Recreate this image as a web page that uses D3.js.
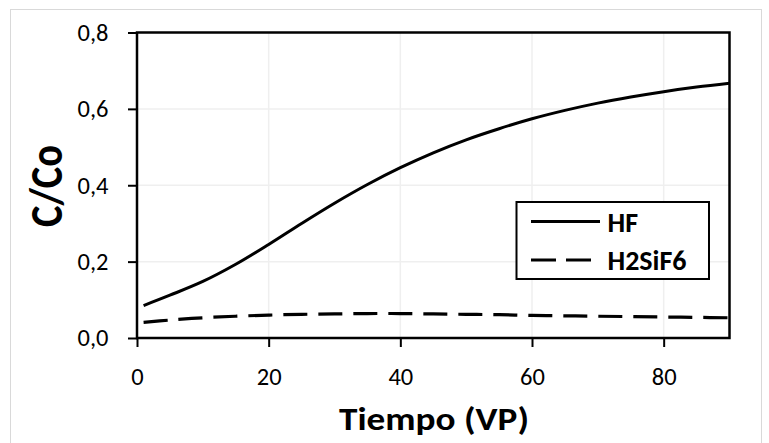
<!DOCTYPE html>
<html>
<head>
<meta charset="utf-8">
<script src="https://cdn.jsdelivr.net/npm/d3@7"></script>
<style>
  body { margin: 0; background: #fff; }
  svg text { font-family: Carlito, Calibri, Lato, sans-serif; fill: #000; }
</style>
</head>
<body>
<div id="container"></div>
<script>
// Chart values
const tiempo = [1, 5, 10, 15, 20, 25, 30, 35, 40, 45, 50, 55, 60, 65, 70, 75, 80, 85, 90];
const hfValues = [0.085, 0.112, 0.148, 0.193, 0.245, 0.300, 0.353, 0.402, 0.446, 0.485, 0.519, 0.548, 0.574, 0.596, 0.615, 0.631, 0.645, 0.657, 0.667];
const h2sif6Values = [0.041, 0.047, 0.053, 0.057, 0.060, 0.062, 0.063, 0.064, 0.064, 0.063, 0.062, 0.061, 0.059, 0.058, 0.057, 0.056, 0.055, 0.054, 0.053];
const seriesNames = ['HF', 'H2SiF6'];
const xTicks = [0, 20, 40, 60, 80];
const yTicks = [0, 0.2, 0.4, 0.6, 0.8];

const width = 769;
const height = 443;

// plot area
const plot = { left: 137, right: 729.5, top: 32.5, bottom: 338 };

const svg = d3.select('#container').append('svg')
    .attr('width', width)
    .attr('height', height);

// outer chart frame
svg.append('rect')
    .attr('x', 10.5).attr('y', 9.5)
    .attr('width', 751).attr('height', 460)
    .attr('fill', '#fff')
    .attr('stroke', '#d9d9d9');

const xScale = d3.scaleLinear().domain([0, 90]).range([plot.left, plot.right]);
const yScale = d3.scaleLinear().domain([0, 0.8]).range([plot.bottom, plot.top]);

// gridlines
svg.append('g').selectAll('line')
    .data(xTicks.slice(1))
    .enter().append('line')
    .attr('x1', d => xScale(d)).attr('x2', d => xScale(d))
    .attr('y1', plot.top).attr('y2', plot.bottom)
    .attr('stroke', '#efefef').attr('stroke-width', 1.5);

svg.append('g').selectAll('line')
    .data(yTicks.slice(1, -1))
    .enter().append('line')
    .attr('x1', plot.left).attr('x2', plot.right)
    .attr('y1', d => yScale(d)).attr('y2', d => yScale(d))
    .attr('stroke', '#efefef').attr('stroke-width', 1.5);

const fmt = d => d3.format('.1f')(d).replace('.', ',');

// Y axis
const yAxis = svg.append('g')
    .attr('transform', 'translate(' + plot.left + ',0)')
    .call(d3.axisLeft(yScale).tickValues(yTicks).tickFormat(fmt).tickSize(9).tickPadding(19.5));

// X axis
const xAxis = svg.append('g')
    .attr('transform', 'translate(0,' + plot.bottom + ')')
    .call(d3.axisBottom(xScale).tickValues(xTicks).tickSize(9).tickPadding(20.5));

[yAxis, xAxis].forEach(ax => {
    ax.select('.domain').remove();
    ax.selectAll('line').attr('stroke', '#000').attr('stroke-width', 2);
    ax.selectAll('text').attr('font-size', 24.5).attr('font-family', 'Carlito, Calibri, Lato, sans-serif');
});

// plot border
svg.append('rect')
    .attr('x', plot.left).attr('y', plot.top)
    .attr('width', plot.right - plot.left).attr('height', plot.bottom - plot.top)
    .attr('fill', 'none')
    .attr('stroke', '#000').attr('stroke-width', 2.5);

// lines
const line = d3.line()
    .x((d, i) => xScale(tiempo[i]))
    .y(d => yScale(d))
    .curve(d3.curveCatmullRom.alpha(0.5));

svg.append('path')
    .attr('d', line(hfValues))
    .attr('fill', 'none')
    .attr('stroke', '#000')
    .attr('stroke-width', 3);

svg.append('path')
    .attr('d', line(h2sif6Values))
    .attr('fill', 'none')
    .attr('stroke', '#000')
    .attr('stroke-width', 3.2)
    .attr('stroke-dasharray', '24 11');

// axis titles
svg.append('text')
    .attr('x', 434).attr('y', 430)
    .attr('text-anchor', 'middle')
    .attr('font-size', 33)
    .attr('font-weight', 'bold')
    .attr('textLength', 190)
    .attr('lengthAdjust', 'spacingAndGlyphs')
    .text('Tiempo (VP)');

svg.append('text')
    .attr('transform', 'translate(62,186) rotate(-90)')
    .attr('text-anchor', 'middle')
    .attr('font-size', 46)
    .attr('font-weight', 'bold')
    .attr('textLength', 82)
    .attr('lengthAdjust', 'spacingAndGlyphs')
    .text('C/Co');

// legend
const legend = svg.append('g');
legend.append('rect')
    .attr('x', 516.5).attr('y', 202)
    .attr('width', 192.5).attr('height', 77)
    .attr('fill', '#fff')
    .attr('stroke', '#000').attr('stroke-width', 2);

const legendY = [221.5, 260];
legend.selectAll('line')
    .data(seriesNames)
    .enter().append('line')
    .attr('x1', 531).attr('x2', (d, i) => i === 0 ? 600 : 591)
    .attr('y1', (d, i) => legendY[i]).attr('y2', (d, i) => legendY[i])
    .attr('stroke', '#000')
    .attr('stroke-width', (d, i) => i === 0 ? 3 : 3.2)
    .attr('stroke-dasharray', (d, i) => i === 0 ? null : '25 10');

legend.selectAll('text')
    .data(seriesNames)
    .enter().append('text')
    .attr('x', 607.5)
    .attr('y', (d, i) => legendY[i] + 10)
    .attr('font-size', 28)
    .attr('font-weight', 'bold')
    .text(d => d);
</script>
</body>
</html>
